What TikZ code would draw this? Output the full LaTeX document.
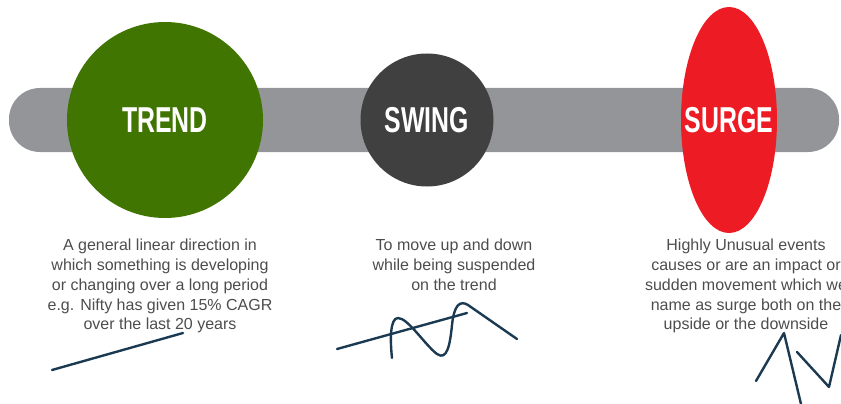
\documentclass[tikz,border=0pt]{standalone}
\usepackage{fontspec}
\setmainfont{Liberation Sans}
\usetikzlibrary{shapes.geometric}
\definecolor{bargray}{HTML}{949599}
\definecolor{trendgreen}{HTML}{3F7500}
\definecolor{swinggray}{HTML}{404040}
\definecolor{surgered}{HTML}{ED1C24}
\definecolor{bodytext}{HTML}{4D4D4D}
\definecolor{ink}{HTML}{1B3A52}
\tikzset{
  x=1pt,y=-1pt,
  title/.style={text=white,font=\fontsize{36}{36}\selectfont\bfseries,inner sep=0pt},
  body/.style={text=bodytext,font=\fontsize{16}{19.8}\selectfont,align=center,anchor=north,inner sep=0pt},
  sketch/.style={draw=ink,line width=2.4pt,line cap=round,line join=round}
}
\begin{document}
\begin{tikzpicture}
\useasboundingbox (0,0) rectangle (841,404);
\fill[bargray,rounded corners=31pt] (9,88) rectangle (839,152);
\node[circle,fill=trendgreen,minimum size=196pt,inner sep=0pt] (trend) at (165,120) {};
\node[circle,fill=swinggray,minimum size=133pt,inner sep=0pt] (swing) at (427,120) {};
\node[ellipse,fill=surgered,minimum width=96pt,minimum height=226pt,inner sep=0pt] (surge) at (729,120) {};
\node[title] (trendlbl) at (165,120) {\scalebox{0.69}[1]{TREND}};
\node[title] (swinglbl) at (427,120) {\scalebox{0.69}[1]{SWING}};
\node[title] (surgelbl) at (729,120) {\scalebox{0.69}[1]{SURGE}};
\node[body] (trendtxt) at (160,239) {A general linear direction in\\which something is developing\\or changing over a long period\\e.g. Nifty has given 15\% CAGR\\over the last 20 years};
\node[body] (swingtxt) at (454,239) {To move up and down\\while being suspended\\on the trend};
\node[body] (surgetxt) at (746,239) {Highly Unusual events\\causes or are an impact or\\sudden movement which we\\name as surge both on the\\upside or the downside};
% trend sketch
\draw[sketch] (52,370) -- (183,333);
% swing sketch
\draw[sketch] (337,349) -- (467,313);
\draw[sketch] (392,358) .. controls (390,340) and (390,318) .. (398,318)
  .. controls (408,318) and (425,345) .. (437,354)
  .. controls (447,361) and (450,345) .. (452,325)
  .. controls (454,305) and (460,300) .. (468,305)
  -- (517,339);
% surge sketch
\draw[sketch] (756,381) -- (784,333) -- (801,404);
\draw[sketch] (797,352) -- (829,387) -- (841,335);
\end{tikzpicture}
\end{document}
